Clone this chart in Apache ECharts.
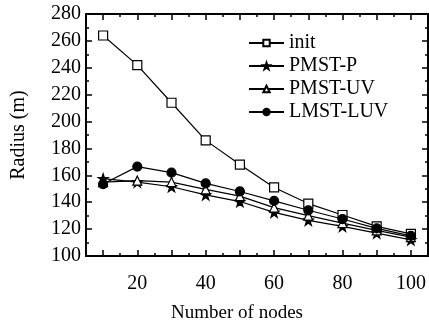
<!DOCTYPE html>
<html>
<head>
<meta charset="utf-8">
<script src="https://cdn.jsdelivr.net/npm/echarts@6/dist/echarts.min.js"></script>
<style>
html,body{margin:0;padding:0;background:#fff;}
#chart{width:429px;height:324px;}
</style>
</head>
<body>
<div id="chart"></div>
<script>
// Number of nodes on the x axis
var nodes = [10, 20, 30, 40, 50, 60, 70, 80, 90, 100];
// Radius (m) for each method
var initR   = [264, 242, 214, 186, 168, 151, 139, 130.5, 122, 116.5];
var pmstP   = [157.5, 155, 151.5, 145.5, 140.5, 132.5, 126.5, 122, 117, 112];
var pmstUV  = [155, 156, 155, 149.5, 144.5, 136, 130, 124.5, 119, 114];
var lmstLUV = [153.5, 166.5, 162, 154, 148, 141, 134, 127.5, 120.5, 115];

var xLabelTicks = [20, 40, 60, 80, 100];
var xMajorTicks = [10, 20, 30, 40, 50, 60, 70, 80, 90, 100];
var xMinorTicks = [15, 25, 35, 45, 55, 65, 75, 85, 95];

var FONT = '"Liberation Serif", "DejaVu Serif", serif';
var STAR = 'path://M50,0 L61.8,35.1 L98.9,35.1 L68.9,56.9 L80.3,92.1 L50,70.4 L19.7,92.1 L31.1,56.9 L1.1,35.1 L38.2,35.1 Z';

function pairs(ys) {
  return nodes.map(function (x, i) { return [x, ys[i]]; });
}

function xAxisDef(pos, ticks, len, labels) {
  return {
    type: 'value', position: pos, min: 5, max: 105, interval: 5,
    axisLine: { show: true, lineStyle: { color: '#000', width: 2 } },
    axisTick: { show: true, inside: true, length: len, customValues: ticks,
                lineStyle: { color: '#000', width: 1.5 } },
    axisLabel: labels ? { show: true, customValues: xLabelTicks, color: '#000',
                          fontFamily: FONT, fontSize: 20, margin: 18 } : { show: false },
    splitLine: { show: false }
  };
}

function yAxisDef(pos, labels) {
  return {
    type: 'value', position: pos, min: 100, max: 280, interval: 20,
    axisLine: { show: true, lineStyle: { color: '#000', width: 2 } },
    axisTick: { show: true, inside: true, length: 6, lineStyle: { color: '#000', width: 1.5 } },
    minorTick: { show: true, splitNumber: 2, length: 3, lineStyle: { color: '#000', width: 1.5 } },
    axisLabel: labels ? { show: true, color: '#000', fontFamily: FONT, fontSize: 20, margin: 5 } : { show: false },
    splitLine: { show: false }
  };
}

function lineSeries(name, ys, symbol, size, filled) {
  return {
    name: name, type: 'line', xAxisIndex: 0, yAxisIndex: 0,
    data: pairs(ys), symbol: symbol, symbolSize: size, showAllSymbol: true,
    lineStyle: { color: '#000', width: 1.2 },
    itemStyle: { color: filled ? '#000' : '#fff', borderColor: '#000', borderWidth: 1.2 },
    emphasis: { disabled: true }, animation: false
  };
}

var chart = echarts.init(document.getElementById('chart'), null, { renderer: 'canvas' });
chart.setOption({
  animation: false,
  backgroundColor: '#fff',
  grid: { left: 86, top: 14, right: 1, bottom: 68, containLabel: false },
  xAxis: [
    xAxisDef('bottom', xMajorTicks, 6, true),
    xAxisDef('bottom', xMinorTicks, 3, false),
    xAxisDef('top', xMajorTicks, 6, false),
    xAxisDef('top', xMinorTicks, 3, false)
  ],
  yAxis: [yAxisDef('left', true), yAxisDef('right', false)],
  legend: {
    orient: 'vertical', left: 248, top: 33, padding: 0,
    itemWidth: 35, itemHeight: 8, itemGap: 3,
    textStyle: { color: '#000', fontFamily: FONT, fontSize: 20, lineHeight: 20 },
    data: ['init', 'PMST-P', 'PMST-UV', 'LMST-LUV']
  },
  graphic: [
    { type: 'text', x: 237, y: 313,
      style: { text: 'Number of nodes', font: '19px ' + FONT, fill: '#000',
               textAlign: 'center', textVerticalAlign: 'middle' } },
    { type: 'text', x: 19, y: 135, rotation: Math.PI / 2,
      style: { text: 'Radius (m)', font: '20px ' + FONT, fill: '#000',
               textAlign: 'center', textVerticalAlign: 'middle' } }
  ],
  series: [
    lineSeries('init', initR, 'rect', 9, false),
    lineSeries('PMST-P', pmstP, STAR, 10, true),
    lineSeries('PMST-UV', pmstUV, 'triangle', 9, false),
    lineSeries('LMST-LUV', lmstLUV, 'circle', 9, true)
  ]
});
</script>
</body>
</html>
